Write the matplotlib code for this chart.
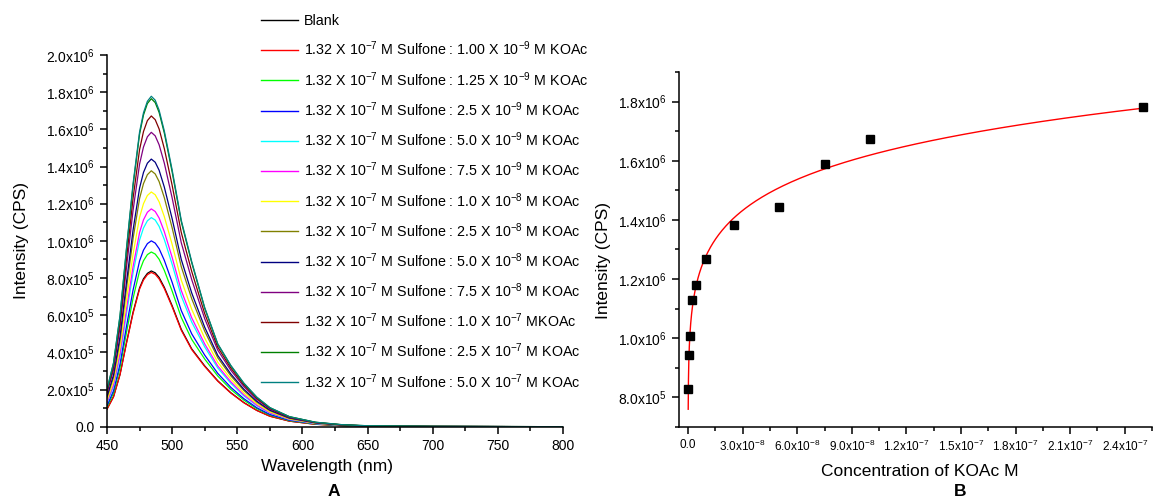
import numpy as np
import matplotlib
matplotlib.use('Agg')
from matplotlib import pyplot as plt
from matplotlib.ticker import MultipleLocator, FuncFormatter
from matplotlib.lines import Line2D

plt.rcParams['font.family'] = ['Liberation Sans', 'DejaVu Sans']
plt.rcParams['mathtext.fontset'] = 'custom'
plt.rcParams['mathtext.rm'] = 'Liberation Sans'
plt.rcParams['mathtext.it'] = 'Liberation Sans:italic'
plt.rcParams['mathtext.bf'] = 'Liberation Sans:bold'

# ---- panel A: emission spectra (intensity in 1e5 CPS) ----
wavelength = [450, 455, 460, 465, 470, 475, 478, 481, 484, 487, 490, 494, 500, 507, 515,
              525, 535, 545, 555, 565, 575, 590, 610, 630, 650, 700, 800]

blank = [0.95, 1.62, 2.82, 4.54, 6.16, 7.47, 7.96, 8.25, 8.38, 8.28, 8.03, 7.50, 6.51, 5.24, 4.19,
         3.27, 2.47, 1.83, 1.30, 0.88, 0.57, 0.30, 0.13, 0.06, 0.03, 0.01, 0.0]
koac_1_00e9 = [0.94, 1.60, 2.80, 4.50, 6.10, 7.40, 7.89, 8.18, 8.30, 8.20, 7.95, 7.43, 6.45, 5.19, 4.15,
               3.24, 2.45, 1.81, 1.29, 0.87, 0.56, 0.30, 0.13, 0.06, 0.02, 0.01, 0.0]
koac_1_25e9 = [1.06, 1.81, 3.17, 5.09, 6.91, 8.38, 8.93, 9.26, 9.40, 9.29, 9.01, 8.41, 7.30, 5.88, 4.70,
               3.64, 2.73, 2.01, 1.43, 0.97, 0.63, 0.33, 0.15, 0.06, 0.03, 0.01, 0.0]
koac_2_5e9 = [1.13, 1.93, 3.37, 5.42, 7.35, 8.92, 9.50, 9.85, 10.0, 9.88, 9.58, 8.95, 7.77, 6.25, 5.00,
              3.85, 2.87, 2.12, 1.51, 1.02, 0.66, 0.35, 0.16, 0.07, 0.03, 0.01, 0.0]
koac_5_0e9 = [1.27, 2.17, 3.79, 6.10, 8.27, 10.04, 10.69, 11.08, 11.25, 11.12, 10.78, 10.07, 8.74, 7.03, 5.63,
              4.29, 3.16, 2.34, 1.66, 1.13, 0.73, 0.39, 0.17, 0.08, 0.03, 0.01, 0.0]
koac_7_5e9 = [1.32, 2.26, 3.95, 6.35, 8.61, 10.45, 11.13, 11.54, 11.72, 11.58, 11.23, 10.49, 9.11, 7.33, 5.86,
              4.45, 3.27, 2.42, 1.72, 1.16, 0.75, 0.40, 0.18, 0.08, 0.03, 0.01, 0.0]
koac_1_0e8 = [1.43, 2.44, 4.26, 6.85, 9.28, 11.27, 12.00, 12.44, 12.63, 12.48, 12.10, 11.30, 9.81, 7.89, 6.32,
              4.76, 3.47, 2.57, 1.82, 1.24, 0.80, 0.42, 0.19, 0.08, 0.04, 0.01, 0.0]
koac_2_5e8 = [1.56, 2.66, 4.64, 7.46, 10.12, 12.28, 13.08, 13.56, 13.77, 13.60, 13.19, 12.32, 10.70, 8.61, 6.89,
              5.14, 3.71, 2.74, 1.95, 1.32, 0.86, 0.45, 0.20, 0.09, 0.04, 0.01, 0.0]
koac_5_0e8 = [1.63, 2.78, 4.85, 7.80, 10.58, 12.84, 13.68, 14.18, 14.40, 14.23, 13.80, 12.89, 11.19, 9.00, 7.20,
              5.35, 3.84, 2.84, 2.02, 1.37, 0.89, 0.47, 0.21, 0.09, 0.04, 0.01, 0.0]
koac_7_5e8 = [1.79, 3.06, 5.34, 8.59, 11.64, 14.13, 15.05, 15.60, 15.84, 15.65, 15.17, 14.18, 12.31, 9.90, 7.92,
              5.81, 4.12, 3.04, 2.16, 1.47, 0.95, 0.50, 0.22, 0.10, 0.04, 0.01, 0.0]
koac_1_0e7 = [1.89, 3.23, 5.63, 9.06, 12.29, 14.91, 15.88, 16.47, 16.72, 16.52, 16.02, 14.96, 12.99, 10.45, 8.36,
              6.08, 4.28, 3.16, 2.25, 1.52, 0.99, 0.52, 0.23, 0.10, 0.04, 0.02, 0.0]
koac_2_5e7 = [1.99, 3.41, 5.95, 9.57, 12.97, 15.74, 16.77, 17.39, 17.65, 17.44, 16.91, 15.80, 13.71, 11.03, 8.83,
              6.37, 4.44, 3.28, 2.33, 1.58, 1.02, 0.54, 0.24, 0.11, 0.05, 0.02, 0.0]
koac_5_0e7 = [2.01, 3.43, 5.99, 9.64, 13.07, 15.86, 16.89, 17.51, 17.78, 17.57, 17.03, 15.91, 13.82, 11.11, 8.89,
              6.41, 4.46, 3.30, 2.35, 1.59, 1.03, 0.54, 0.24, 0.11, 0.05, 0.02, 0.0]

spectra = [blank, koac_1_00e9, koac_1_25e9, koac_2_5e9, koac_5_0e9, koac_7_5e9, koac_1_0e8,
           koac_2_5e8, koac_5_0e8, koac_7_5e8, koac_1_0e7, koac_2_5e7, koac_5_0e7]

labels = ['Blank',
          '1.32 X 10$^{-7}$ M Sulfone : 1.00 X 10$^{-9}$ M KOAc',
          '1.32 X 10$^{-7}$ M Sulfone : 1.25 X 10$^{-9}$ M KOAc',
          '1.32 X 10$^{-7}$ M Sulfone : 2.5 X 10$^{-9}$ M KOAc',
          '1.32 X 10$^{-7}$ M Sulfone : 5.0 X 10$^{-9}$ M KOAc',
          '1.32 X 10$^{-7}$ M Sulfone : 7.5 X 10$^{-9}$ M KOAc',
          '1.32 X 10$^{-7}$ M Sulfone : 1.0 X 10$^{-8}$ M KOAc',
          '1.32 X 10$^{-7}$ M Sulfone : 2.5 X 10$^{-8}$ M KOAc',
          '1.32 X 10$^{-7}$ M Sulfone : 5.0 X 10$^{-8}$ M KOAc',
          '1.32 X 10$^{-7}$ M Sulfone : 7.5 X 10$^{-8}$ M KOAc',
          '1.32 X 10$^{-7}$ M Sulfone : 1.0 X 10$^{-7}$ MKOAc',
          '1.32 X 10$^{-7}$ M Sulfone : 2.5 X 10$^{-7}$ M KOAc',
          '1.32 X 10$^{-7}$ M Sulfone : 5.0 X 10$^{-7}$ M KOAc']

colors = ['#000000', '#FF0000', '#00FF00', '#0000FF', '#00FFFF', '#FF00FF', '#FFFF00',
          '#808000', '#000080', '#800080', '#800000', '#008000', '#008080']

# ---- panel B: peak intensity vs KOAc concentration ----
conc = [0.0, 0.05e-8, 0.1e-8, 0.22e-8, 0.45e-8, 1.0e-8, 2.5e-8, 5.0e-8, 7.5e-8, 1.0e-7, 2.5e-7]
peak = [8.30e5, 9.42e5, 1.007e6, 1.129e6, 1.180e6, 1.268e6, 1.383e6, 1.445e6, 1.590e6, 1.675e6, 1.783e6]


def sci_fmt(v, pos):
    if abs(v) < 1e-20:
        return '0.0'
    e = int(np.floor(np.log10(abs(v)) + 1e-9))
    m = v / 10.0 ** e
    return f'{m:.1f}x10$^{{{e}}}$'


W, H = 1153, 499
fig = plt.figure(figsize=(W / 100, H / 100), dpi=100)

axA = fig.add_axes([107 / W, (H - 426.7) / H, 456 / W, 371.7 / H])
axB = fig.add_axes([679 / W, (H - 427) / H, 473 / W, 355 / H])

for s, c in zip(spectra, colors):
    axA.plot(wavelength, np.array(s) * 1e5, color=c, lw=0.9)

axA.set_xlim(450, 800)
axA.set_ylim(0, 2.0e6)
axA.xaxis.set_major_locator(MultipleLocator(50))
axA.xaxis.set_minor_locator(MultipleLocator(25))
axA.yaxis.set_major_locator(MultipleLocator(2e5))
axA.yaxis.set_minor_locator(MultipleLocator(1e5))
axA.yaxis.set_major_formatter(FuncFormatter(sci_fmt))
axA.set_xlabel('Wavelength (nm)', fontsize=12.5)
axA.set_ylabel('Intensity (CPS)', fontsize=12.5)
axA.xaxis.set_label_coords(0.482, -0.087)
axA.yaxis.set_label_coords(-0.172, 0.5)
axA.tick_params(axis='both', labelsize=10)

# fitted curve (power law through the points, log-log least squares)
cx = np.array(conc)
cy = np.array(peak)
mask = cx > 0
b, loga = np.polyfit(np.log(cx[mask]), np.log(cy[mask]), 1)
fit_x = np.geomspace(6e-11, 2.5e-7, 400)
fit_y = np.exp(loga) * fit_x ** b

axB.plot(fit_x, fit_y, color='#FF0000', lw=1)
axB.plot(conc, peak, 's', color='black', markersize=6)
axB.set_xlim(-0.5e-8, 2.55e-7)
axB.set_ylim(7.0e5, 1.9e6)
axB.xaxis.set_major_locator(MultipleLocator(3e-8))
axB.xaxis.set_minor_locator(MultipleLocator(1.5e-8))
axB.yaxis.set_major_locator(MultipleLocator(2e5))
axB.yaxis.set_minor_locator(MultipleLocator(1e5))
axB.xaxis.set_major_formatter(FuncFormatter(sci_fmt))
axB.yaxis.set_major_formatter(FuncFormatter(sci_fmt))
axB.set_xlabel('Concentration of KOAc M', fontsize=12.5)
axB.set_ylabel('Intensity (CPS)', fontsize=12.5)
axB.xaxis.set_label_coords(0.51, -0.104)
axB.yaxis.set_label_coords(-0.143, 0.47)
axB.tick_params(axis='y', labelsize=10)
axB.tick_params(axis='x', labelsize=8.5)

for ax in (axA, axB):
    ax.spines['top'].set_visible(False)
    ax.spines['right'].set_visible(False)
    ax.spines['left'].set_linewidth(1.1)
    ax.spines['bottom'].set_linewidth(1.1)
    ax.tick_params(which='major', direction='out', length=5, width=1.1)
    ax.tick_params(which='minor', direction='out', length=3, width=1.1)

# legend, laid out row by row
for i, (lab, c) in enumerate(zip(labels, colors)):
    yl = 1 - (20 + 30.2 * i) / H
    fig.add_artist(Line2D([261 / W, 298 / W], [yl, yl], color=c, lw=1))
    fig.text(304 / W, yl - 5.3 / H, lab, fontsize=10.3, va='baseline', ha='left')

fig.text(334 / W, 1 - 491 / H, 'A', fontsize=12.5, fontweight='bold', ha='center', va='center')
fig.text(960 / W, 1 - 492 / H, 'B', fontsize=12.5, fontweight='bold', ha='center', va='center')

plt.savefig('out.png', dpi=100)
